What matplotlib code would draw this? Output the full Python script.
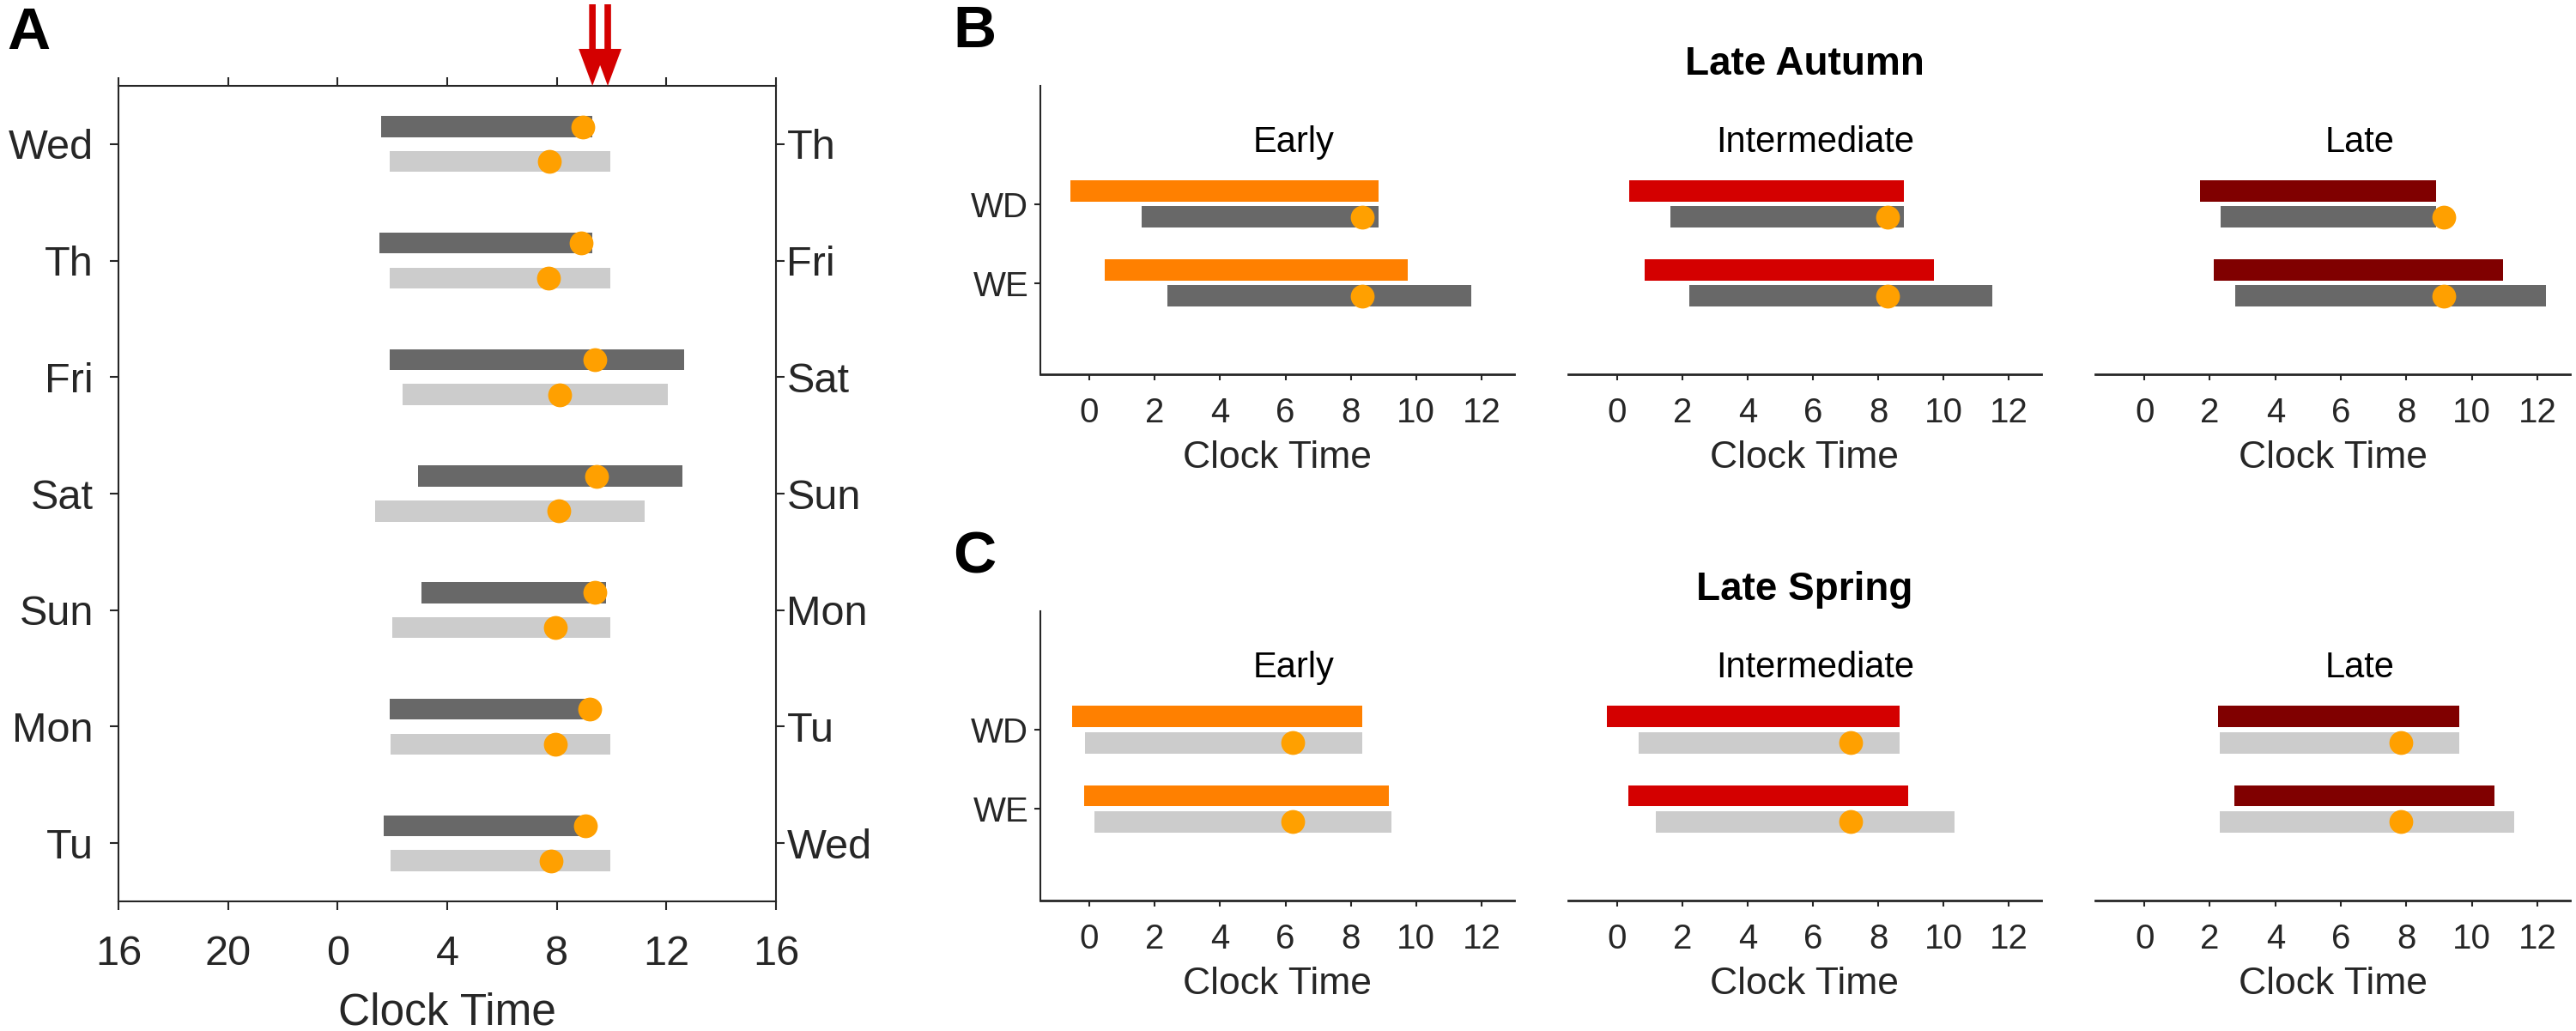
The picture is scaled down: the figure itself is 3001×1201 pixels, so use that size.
import numpy as np
import matplotlib
matplotlib.use("Agg")
import matplotlib.pyplot as plt

plt.rcParams["font.family"] = ["Liberation Sans", "DejaVu Sans"]

W, H = 3001, 1201

# ---- panel A: sleep by day of week (clock hours) ----
days_left = ["Wed", "Th", "Fri", "Sat", "Sun", "Mon", "Tu"]
days_right = ["Th", "Fri", "Sat", "Sun", "Mon", "Tu", "Wed"]
dark_start = [1.6, 1.54, 1.9, 2.92, 3.06, 1.9, 1.68]
dark_end = [9.3, 9.3, 12.66, 12.6, 9.8, 9.2, 9.06]
dark_dot = [8.96, 8.9, 9.4, 9.46, 9.4, 9.2, 9.04]
light_start = [1.9, 1.9, 2.38, 1.36, 1.98, 1.92, 1.92]
light_end = [9.96, 9.96, 12.04, 11.22, 9.96, 9.96, 9.96]
light_dot = [7.72, 7.7, 8.1, 8.06, 7.96, 7.96, 7.78]
arrow_times = [9.3, 9.86]
a_ticks = [16, 20, 24, 28, 32, 36, 40]
a_ticklabels = ["16", "20", "0", "4", "8", "12", "16"]

# ---- panels B / C: chronotypes, weekday (WD) and weekend (WE) ----
chronotypes = ["Early", "Intermediate", "Late"]
day_types = ["WD", "WE"]
autumn_col_start = [[-0.57, 0.48], [0.38, 0.83], [1.69, 2.13]]
autumn_col_end = [[8.85, 9.75], [8.79, 9.71], [8.92, 10.96]]
autumn_gray_start = [[1.59, 2.39], [1.62, 2.2], [2.33, 2.77]]
autumn_gray_end = [[8.85, 11.69], [8.79, 11.5], [8.92, 12.26]]
autumn_dot = [8.34, 8.28, 9.14]
spring_col_start = [[-0.54, -0.16], [-0.32, 0.35], [2.26, 2.74]]
spring_col_end = [[8.34, 9.17], [8.66, 8.92], [9.62, 10.7]]
spring_gray_start = [[-0.13, 0.16], [0.67, 1.18], [2.29, 2.29]]
spring_gray_end = [[8.34, 9.24], [8.66, 10.35], [9.62, 11.3]]
spring_dot = [6.21, 7.17, 7.83]
bc_ticks = [0, 2, 4, 6, 8, 10, 12]

chrono_colors = ["#FF8000", "#D40000", "#800000"]
dark_gray = "#686868"
light_gray = "#CCCCCC"
dot_color = "#FFA000"
axis_color = "#262626"


def to_axis(t):
    t = np.asarray(t, dtype=float)
    return np.where(t < 16, t + 24, t)


def px_axes(x0, y0, x1, y1):
    return fig.add_axes([x0 / W, 1 - y1 / H, (x1 - x0) / W, (y1 - y0) / H])


def fig_text(x, y, s, **kw):
    fig.text(x / W, 1 - y / H, s, **kw)


fig = plt.figure(figsize=(W / 100, H / 100), dpi=100)

# ---------------- panel A ----------------
ax = px_axes(138, 100, 904, 1050)
y = np.arange(1, len(days_left) + 1)
ds, de = to_axis(dark_start), to_axis(dark_end)
ls, le = to_axis(light_start), to_axis(light_end)
ax.barh(y - 0.15, de - ds, left=ds, height=0.18, color=dark_gray, zorder=2)
ax.barh(y + 0.15, le - ls, left=ls, height=0.18, color=light_gray, zorder=2)
ax.plot(to_axis(dark_dot), y - 0.15, "o", ms=20, color=dot_color, mec="none", zorder=3)
ax.plot(to_axis(light_dot), y + 0.15, "o", ms=20, color=dot_color, mec="none", zorder=3)
ax.set_xlim(16, 40)
ax.set_ylim(7.5, 0.5)
ax.set_xticks(a_ticks)
ax.set_xticklabels(a_ticklabels)
ax.set_yticks(y)
ax.set_yticklabels(days_left)
for sp in ax.spines.values():
    sp.set_color(axis_color)
    sp.set_linewidth(1.5)
ax.tick_params(axis="x", direction="out", length=7, width=1.5, top=True,
               labelsize=35, pad=21, colors=axis_color)
ax.tick_params(axis="y", direction="out", length=7, width=1.5,
               labelsize=35, pad=14, colors=axis_color)
ax2 = ax.twinx()
ax2.set_ylim(7.5, 0.5)
ax2.set_yticks(y)
ax2.set_yticklabels(days_right)
ax2.tick_params(axis="y", direction="out", length=7, width=1.5,
                labelsize=35, pad=2, colors=axis_color)
for sp in ax2.spines.values():
    sp.set_visible(False)

# red arrows above the top axis, tip on the spine
for t in arrow_times:
    xa = float(to_axis(t))
    ax.annotate("", xy=(xa, 1.0), xycoords=("data", "axes fraction"),
                xytext=(xa, 1.0 + 95 / 950), textcoords=("data", "axes fraction"),
                arrowprops=dict(width=5.5, headwidth=23, headlength=31, shrink=0,
                                color="#D40000", lw=0),
                annotation_clip=False)

fig_text(138 + 383, 1193, "Clock Time", ha="center", va="baseline", fontsize=37,
         color=axis_color)
fig_text(8, 57, "A", ha="left", va="baseline", fontsize=50, fontweight="bold")


# ---------------- panels B and C ----------------
def draw_season(top, bottom, col_start, col_end, gray_start, gray_end, dots, gray,
                title, letter):
    lefts = [1212, 1827, 2441]
    rights = [1764, 2378, 2994]
    title_x = [6.24, 6.08, 6.58]
    yy = np.arange(1, len(day_types) + 1)
    for i, name in enumerate(chronotypes):
        a = px_axes(lefts[i], top, rights[i], bottom)
        cs, ce = np.array(col_start[i]), np.array(col_end[i])
        gs, ge = np.array(gray_start[i]), np.array(gray_end[i])
        a.barh(yy - 0.165, ce - cs, left=cs, height=0.27, color=chrono_colors[i], zorder=2)
        a.barh(yy + 0.165, ge - gs, left=gs, height=0.27, color=gray, zorder=2)
        a.plot([dots[i]] * len(yy), yy + 0.165, "o", ms=20, color=dot_color,
               mec="none", zorder=3)
        a.set_xlim(-1.5, 13)
        a.set_ylim(3.16, -0.5)
        a.set_xticks(bc_ticks)
        a.tick_params(axis="x", direction="out", length=5, width=1.5,
                      labelsize=29, pad=14, colors=axis_color)
        a.spines["top"].set_visible(False)
        a.spines["right"].set_visible(False)
        a.spines["bottom"].set_color(axis_color)
        a.spines["bottom"].set_linewidth(2)
        if i == 0:
            a.set_yticks(yy)
            a.set_yticklabels(day_types)
            a.spines["left"].set_color(axis_color)
            a.spines["left"].set_linewidth(1.5)
            a.tick_params(axis="y", direction="out", length=5, width=1.5,
                          labelsize=29, pad=5, colors=axis_color)
        else:
            a.set_yticks([])
            a.spines["left"].set_visible(False)
        a.text(title_x[i], 0.34, name, ha="center", va="baseline", fontsize=30)
        fig_text((lefts[i] + rights[i]) / 2, bottom + 109, "Clock Time", ha="center",
                 va="baseline", fontsize=32, color=axis_color)
    fig_text(2102, top - 13, title, ha="center", va="baseline", fontsize=33,
             fontweight="bold")
    fig_text(1110, top - 45, letter, ha="left", va="baseline", fontsize=50,
             fontweight="bold")


draw_season(100, 436, autumn_col_start, autumn_col_end, autumn_gray_start,
            autumn_gray_end, autumn_dot, dark_gray, "Late Autumn", "B")
draw_season(712, 1049, spring_col_start, spring_col_end, spring_gray_start,
            spring_gray_end, spring_dot, light_gray, "Late Spring", "C")

fig.savefig("out.png", dpi=100)
